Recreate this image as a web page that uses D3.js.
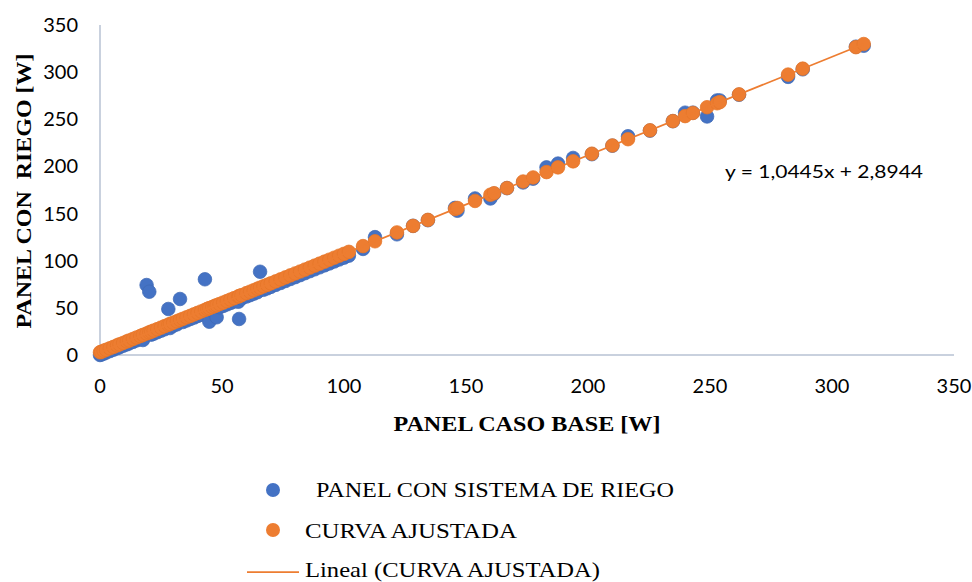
<!DOCTYPE html>
<html>
<head>
<meta charset="utf-8">
<script src="https://cdn.jsdelivr.net/npm/d3@7"></script>
<style>
  body { margin: 0; background: #fff; }
  svg { display: block; }
</style>
</head>
<body>
<svg id="chart" width="972" height="582"></svg>
<script>
// panel caso base [W] (x)
var casoBase = [0, 0.5, 1.5, 2.5, 4, 5.5, 7, 8, 9.5, 11, 12, 13.5, 15, 16.5, 17.6, 19.1, 20.2, 21, 22, 23.5,
  25, 26.5, 28, 28.7, 30, 31.5, 32.8, 34, 35.5, 37, 38.5, 40, 41.5, 43, 44, 44.8, 46, 47, 47.8, 49,
  50.5, 52, 53.5, 55, 56.7, 57, 58, 60, 61.5, 63, 64.5, 65.6, 67, 68.5, 70, 72, 74, 76, 78, 80,
  82, 84, 86, 88, 90, 92, 94, 96, 98, 100, 102, 107.8, 112.7, 121.7, 128.3, 134.4, 145.5, 146.5, 153.7, 160,
  161.5, 166.8, 173.4, 177.5, 183, 187.7, 193.9, 201.6, 210, 216.4, 225.4, 234.8, 239.8, 243, 248.8, 252.9,
  254, 261.9, 282, 288, 309.8, 313];

// panel con sistema de riego [W] (blue)
var conRiego = [0, 0.5, 1.5, 2.6, 4.1, 5.6, 7.2, 8.2, 9.8, 11.3, 12.4, 13.9, 15.5, 17, 15.9, 74.2, 67.1, 21.6, 22.7, 24.2,
  25.8, 27.3, 48.8, 28.6, 31, 32.5, 59.4, 35, 36.6, 38.2, 39.7, 41.3, 42.8, 80.3, 45.4, 35.3, 47.5, 48.5, 40, 50.6,
  52.1, 53.7, 55.2, 56.8, 56.5, 38.2, 59.9, 62, 63.5, 65.1, 66.6, 88.3, 69.2, 70.7, 72.3, 74.4, 76.4, 78.5, 80.6, 82.6,
  84.7, 86.8, 88.9, 90.9, 93, 95.1, 97.1, 99.2, 101.3, 103.3, 105.4, 112.5, 125, 128, 137, 143, 156, 153, 166, 166,
  171, 177, 183, 187, 199, 203, 209, 213, 222, 232, 238, 248, 257, 257, 253, 270,
  270, 276, 295, 303, 327, 328];

// curva ajustada [W] (orange)
var ajustada = [2.9, 3.4, 4.5, 5.5, 7.1, 8.6, 10.2, 11.3, 12.8, 14.4, 15.4, 17, 18.6, 20.1, 21.3, 22.8, 24, 24.8, 25.9, 27.4,
  29, 30.6, 32.1, 32.9, 34.2, 35.8, 37.2, 38.4, 40, 41.5, 43.1, 44.7, 46.2, 47.8, 48.9, 49.7, 50.9, 52, 52.8, 54.1,
  55.6, 57.2, 58.8, 60.3, 62.1, 62.4, 63.5, 65.6, 67.1, 68.7, 70.3, 71.4, 72.9, 74.4, 76, 78.1, 80.2, 82.3, 84.4, 86.5,
  88.5, 90.6, 92.7, 94.8, 96.9, 99, 101.1, 103.2, 105.3, 107.3, 109.4, 115.5, 120.6, 130, 136.9, 143.3, 154.9, 155.9, 163.4, 170,
  171.6, 177.1, 184, 188.3, 194, 199, 205.4, 213.5, 222.2, 228.9, 238.3, 248.1, 253.4, 256.7, 262.8, 267,
  268.2, 276.4, 297.4, 303.7, 326.5, 329.8];

var xTicks = [0, 50, 100, 150, 200, 250, 300, 350];
var yTicks = [0, 50, 100, 150, 200, 250, 300, 350];
var trend = { slope: 1.0445, intercept: 2.8944, label: "y = 1,0445x + 2,8944" };

var azul = "#4472c4";
var naranja = "#ed7d31";
var ejeColor = "#b7c2d3";
var sans = "Lato, 'Open Sans', sans-serif";
var serif = "'Liberation Serif', 'Times New Roman', serif";

var svg = d3.select("#chart");

var x = d3.scaleLinear().domain([0, 350]).range([100, 954]);
var y = d3.scaleLinear().domain([0, 350]).range([355, 25]);

// axis lines
svg.append("line")
  .attr("x1", x(0)).attr("x2", x(0))
  .attr("y1", y(350)).attr("y2", y(0))
  .attr("stroke", ejeColor).attr("stroke-width", 1.5);
svg.append("line")
  .attr("x1", x(0)).attr("x2", x(350))
  .attr("y1", y(0)).attr("y2", y(0))
  .attr("stroke", ejeColor).attr("stroke-width", 1.5);

// tick labels
svg.selectAll(".xtick")
  .data(xTicks)
  .enter().append("text")
  .attr("class", "xtick")
  .attr("x", function (d) { return x(d); })
  .attr("y", 393)
  .attr("text-anchor", "middle")
  .style("font-family", sans).style("font-size", "20px").attr("fill", "#000")
  .text(function (d) { return d; });

svg.selectAll(".ytick")
  .data(yTicks)
  .enter().append("text")
  .attr("class", "ytick")
  .attr("x", 78)
  .attr("y", function (d) { return y(d) + 7; })
  .attr("text-anchor", "end")
  .style("font-family", sans).style("font-size", "20px").attr("fill", "#000")
  .text(function (d) { return d; });

// axis titles
svg.append("text")
  .attr("x", 527).attr("y", 431)
  .attr("text-anchor", "middle")
  .attr("textLength", 267).attr("lengthAdjust", "spacingAndGlyphs")
  .style("font-family", serif).style("font-size", "22px").style("font-weight", "bold")
  .text("PANEL CASO BASE [W]");

svg.append("text")
  .attr("transform", "translate(31,191) rotate(-90)")
  .attr("text-anchor", "middle")
  .attr("textLength", 275).attr("lengthAdjust", "spacingAndGlyphs")
  .style("font-family", serif).style("font-size", "22px").style("font-weight", "bold")
  .style("white-space", "pre")
  .text("PANEL CON  RIEGO [W]");

// points
var puntos = casoBase.map(function (d, i) {
  return { x: d, riego: conRiego[i], ajuste: ajustada[i] };
});

svg.append("g").selectAll("circle")
  .data(puntos)
  .enter().append("circle")
  .attr("cx", function (d) { return x(d.x); })
  .attr("cy", function (d) { return y(d.riego); })
  .attr("r", 6.8)
  .attr("fill", azul)
  .attr("stroke", "#3f69b5").attr("stroke-width", 0.75);

svg.append("g").selectAll("circle")
  .data(puntos)
  .enter().append("circle")
  .attr("cx", function (d) { return x(d.x); })
  .attr("cy", function (d) { return y(d.ajuste); })
  .attr("r", 6.8)
  .attr("fill", naranja)
  .attr("stroke", "#e57628").attr("stroke-width", 0.75);

// linear trendline over the data range
var xMin = d3.min(casoBase), xMax = d3.max(casoBase);
svg.append("line")
  .attr("x1", x(xMin)).attr("y1", y(trend.slope * xMin + trend.intercept))
  .attr("x2", x(xMax)).attr("y2", y(trend.slope * xMax + trend.intercept))
  .attr("stroke", naranja).attr("stroke-width", 1.75);

svg.append("text")
  .attr("x", 725).attr("y", 178)
  .attr("textLength", 198).attr("lengthAdjust", "spacingAndGlyphs")
  .style("font-family", sans).style("font-size", "18px")
  .text(trend.label);

// legend
var leyenda = svg.append("g");
leyenda.append("circle").attr("cx", 273).attr("cy", 490).attr("r", 7).attr("fill", azul);
leyenda.append("text").attr("x", 316).attr("y", 497)
  .attr("textLength", 358).attr("lengthAdjust", "spacingAndGlyphs")
  .style("font-family", serif).style("font-size", "22px")
  .text("PANEL CON SISTEMA DE RIEGO");

leyenda.append("circle").attr("cx", 273).attr("cy", 530).attr("r", 7).attr("fill", naranja);
leyenda.append("text").attr("x", 305).attr("y", 538)
  .attr("textLength", 212).attr("lengthAdjust", "spacingAndGlyphs")
  .style("font-family", serif).style("font-size", "22px")
  .text("CURVA AJUSTADA");

leyenda.append("line").attr("x1", 247).attr("x2", 299).attr("y1", 572).attr("y2", 572)
  .attr("stroke", naranja).attr("stroke-width", 1.75);
leyenda.append("text").attr("x", 305).attr("y", 577)
  .attr("textLength", 295).attr("lengthAdjust", "spacingAndGlyphs")
  .style("font-family", serif).style("font-size", "22px")
  .text("Lineal (CURVA AJUSTADA)");
</script>
</body>
</html>
